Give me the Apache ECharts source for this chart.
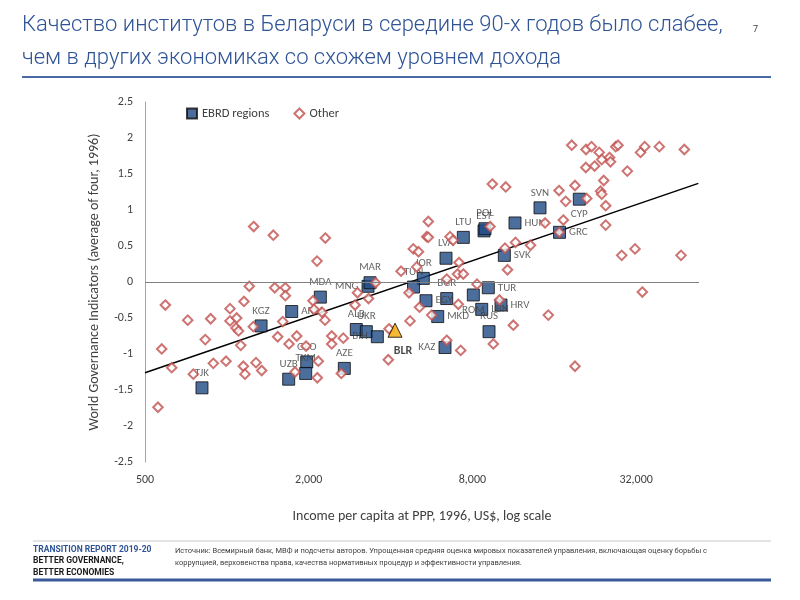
<!DOCTYPE html>
<html><head><meta charset="utf-8">
<script src="https://cdn.jsdelivr.net/npm/echarts@6/dist/echarts.min.js"></script>
<style>html,body{margin:0;padding:0;background:#fff}#c{width:800px;height:600px}</style>
</head><body><div id="c"></div>
<script>
// ---- Data ----
const ebrdCodes = ['TJK','KGZ','ARM','MDA','MNG','MAR','ALB','UKR','BIH','GEO','TKM','UZB','AZE','JOR','TUN','LVA','LTU','EST','POL','HUN','SVN','SVK','GRC','CYP','BGR','EGY','ROM','TUR','LBN','HRV','MKD','RUS','KAZ'];
const ebrdIncome = [810,1336,1732,2207,3305,3362,2993,3258,3576,1967,1950,1688,2704,5278,4858,6397,7407,8826,8902,11473,14180,10483,16727,19782,6436,5400,8062,9153,8656,10192,5963,9208,6343];
const ebrdWgi = [-1.47,-0.61,-0.41,-0.21,-0.06,-0.01,-0.66,-0.69,-0.76,-1.11,-1.27,-1.35,-1.20,0.05,-0.07,0.33,0.62,0.71,0.74,0.82,1.03,0.37,0.69,1.15,-0.23,-0.26,-0.18,-0.08,-0.38,-0.32,-0.48,-0.69,-0.91];

const otherIncome = [1255,1482,2302,2146,4850,5068,5433,4992,4370,3522,1209,1500,1641,1641,594,718,872,1027,1156,1027,1087,1081,1104,1251,1605,833,1125,1538,1807,1693,576,627,753,892,993,1150,1166,1280,1343,1781,1955,2170,2151,2636,2430,2430,2681,2074,2092,2238,2296,3023,2961,3319,4717,4677,3925,558,3948,5111,5507,5507,6618,6789,9286,9470,10606,19070,16656,17630,14795,17274,7140,7052,7407,6436,8318,10543,10768,11524,13084,5668,7099,10064,11311,15214,9550,7245,6436,19070,28327,31706,46804,33727,18548,20937,21934,23414,23915,25547,25764,26923,27451,33215,34413,38951,48133,20900,22516,29700,24321,23673,23915,21060,24738,24738,16700];
const otherWgi = [0.77,0.65,0.61,0.29,0.46,0.42,0.63,0.21,0.15,-0.01,-0.06,-0.08,-0.08,-0.19,-0.32,-0.53,-0.51,-0.37,-0.27,-0.54,-0.50,-0.64,-0.68,-0.62,-0.55,-0.80,-0.88,-0.76,-0.75,-0.86,-0.93,-1.19,-1.28,-1.13,-1.10,-1.17,-1.28,-1.12,-1.23,-1.25,-0.89,-1.10,-1.33,-1.27,-0.75,-0.86,-0.78,-0.26,-0.38,-0.42,-0.53,-0.15,-0.32,-0.23,-0.54,-0.15,-1.08,-1.74,-0.65,-0.35,0.84,0.62,0.63,0.58,0.77,1.36,1.32,1.34,1.27,1.12,0.82,0.86,0.27,0.11,0.11,0.04,-0.03,0.47,0.17,0.55,0.51,-0.46,-0.31,-0.25,-0.60,-0.46,-0.86,-0.95,-0.81,-1.17,0.37,0.46,0.37,-0.14,1.90,1.84,1.88,1.80,1.70,1.73,1.67,1.88,1.90,1.80,1.88,1.88,1.84,1.59,1.61,1.54,1.41,1.26,1.22,1.16,1.06,0.79,0.69];

const blrCode = ['BLR'];
const blrIncome = [4154];
const blrWgi = [-0.67];

const trendIncome = [500, 54200];
const trendWgi = [-1.26, 1.37];

const xAxisMinIncome = 500;
const xAxisMaxIncome = 54500;
const yTickMin = -2.5, yTickMax = 2.5, yTickStep = 0.5;

// ---- Styling (positions of labels relative to points) ----
const labelPos = {TJK:'top',KGZ:'top',ARM:'right',MDA:'top',MNG:'left',MAR:'top',ALB:'top',UKR:'top',BIH:'left',GEO:'top',TKM:'top',UZB:'top',AZE:'top',JOR:'top',TUN:'top',LVA:'top',LTU:'top',EST:'top',POL:'top',HUN:'right',SVN:'top',SVK:'right',GRC:'right',CYP:'bottom',BGR:'top',EGY:'right',ROM:'bottom',TUR:'right',LBN:'right',HRV:'right',MKD:'right',RUS:'top',KAZ:'left'};

const FONT = 'Carlito, Lato, sans-serif';
const toX = v => Math.log2(v / xAxisMinIncome);

const ebrdData = ebrdCodes.map((c, i) => ({
  name: c, value: [toX(ebrdIncome[i]), ebrdWgi[i]],
  label: { position: labelPos[c] || 'top' }
}));
const otherData = otherIncome.map((v, i) => [toX(v), otherWgi[i]]);
const blrData = blrCode.map((c, i) => ({ name: c, value: [toX(blrIncome[i]), blrWgi[i]] }));
const trendData = trendIncome.map((v, i) => [toX(v), trendWgi[i]]);

const chart = echarts.init(document.getElementById('c'), null, { renderer: 'canvas' });
const option = {
  animation: false,
  textStyle: { fontFamily: FONT },
  grid: { left: 145, right: 101, top: 102, bottom: 138 },
  legend: {
    left: 181, top: 102, itemWidth: 10, itemHeight: 10, itemGap: 24,
    textStyle: { fontSize: 12.5, color: '#404040', fontFamily: FONT },
    data: [{ name: 'EBRD regions', icon: 'rect' }, { name: 'Other', icon: 'diamond' }]
  },
  xAxis: {
    type: 'value', min: 0, max: toX(xAxisMaxIncome), interval: 2,
    axisLine: { show: false }, axisTick: { show: false }, splitLine: { show: false },
    axisLabel: {
      margin: 12, fontSize: 12, color: '#404040', fontFamily: FONT, showMaxLabel: false,
      formatter: v => {
        const r = Math.round(v);
        if (Math.abs(v - r) > 1e-6 || r % 2 !== 0) return '';
        return Math.round(xAxisMinIncome * Math.pow(2, r)).toLocaleString('en-US');
      }
    },
    name: 'Income per capita at PPP, 1996, US$, log scale',
    nameLocation: 'middle', nameGap: 47,
    nameTextStyle: { fontSize: 14, color: '#404040', fontFamily: FONT }
  },
  yAxis: {
    type: 'value', min: yTickMin, max: yTickMax, interval: yTickStep,
    axisLine: { show: true, lineStyle: { color: '#a6a6a6', width: 1 } },
    axisTick: { show: false }, splitLine: { show: false },
    axisLabel: { margin: 12, fontSize: 12, color: '#404040', fontFamily: FONT },
    name: 'World Governance Indicators (average of four, 1996)',
    nameLocation: 'middle', nameGap: 44, nameRotate: 90,
    nameTextStyle: { fontSize: 14, color: '#404040', fontFamily: FONT }
  },
  graphic: [
    { type: 'text', left: 22, top: 14, style: { text: 'Качество институтов в Беларуси в середине 90-х годов было слабее,', fontSize: 22, fontFamily: 'Roboto', fontWeight: 300, fill: '#2f5496' } },
    { type: 'text', left: 22, top: 47, style: { text: 'чем в других экономиках со схожем уровнем дохода', fontSize: 22, fontFamily: 'Roboto', fontWeight: 300, fill: '#2f5496' } },
    { type: 'text', left: 753, top: 25, style: { text: '7', fontSize: 9, fontFamily: 'Roboto', fill: '#404040' } },
    { type: 'line', shape: { x1: 22, y1: 77, x2: 771, y2: 77 }, style: { stroke: '#4a6aa5', lineWidth: 2 } },
    { type: 'line', shape: { x1: 33, y1: 541, x2: 771, y2: 541 }, style: { stroke: '#c8c8c8', lineWidth: 1 } },
    { type: 'line', shape: { x1: 33, y1: 580, x2: 771, y2: 580 }, style: { stroke: '#3b5a9a', lineWidth: 3 } },
    { type: 'text', left: 33, top: 545, style: { text: 'TRANSITION REPORT 2019-20', fontSize: 8.5, fontWeight: 'bold', fontFamily: 'Roboto', fill: '#2f5496' } },
    { type: 'text', left: 33, top: 556, style: { text: 'BETTER GOVERNANCE,', fontSize: 8.5, fontWeight: 'bold', fontFamily: 'Roboto', fill: '#1a1a1a' } },
    { type: 'text', left: 33, top: 568, style: { text: 'BETTER ECONOMIES', fontSize: 8.5, fontWeight: 'bold', fontFamily: 'Roboto', fill: '#1a1a1a' } },
    { type: 'text', left: 175, top: 547, style: { text: 'Источник: Всемирный банк, МВФ и подсчеты авторов. Упрощенная средняя оценка мировых показателей управления, включающая оценку борьбы с', fontSize: 7.5, fontFamily: 'Roboto', fill: '#404040' } },
    { type: 'text', left: 175, top: 559, style: { text: 'коррупцией, верховенства права, качества нормативных процедур и эффективности управления.', fontSize: 7.5, fontFamily: 'Roboto', fill: '#404040' } }
  ],
  series: [
    {
      name: 'trend', type: 'line', data: trendData, symbol: 'none', z: 1, silent: true,
      lineStyle: { color: '#000', width: 1.5 },
      markLine: {
        silent: true, symbol: 'none', label: { show: false },
        lineStyle: { color: '#808080', width: 1.2, type: 'solid' },
        data: [{ yAxis: 0 }]
      }
    },
    {
      name: 'EBRD regions', type: 'scatter', symbol: 'rect', symbolSize: 12, z: 2,
      data: ebrdData,
      itemStyle: { color: '#1f4a85', borderColor: '#0d0d0d', borderWidth: 1 },
      label: { show: true, formatter: '{b}', fontSize: 11, color: '#404040', distance: 3, fontFamily: FONT }
    },
    {
      name: 'Other', type: 'scatter', symbol: 'diamond', symbolSize: 9.5, z: 3,
      data: otherData,
      itemStyle: { color: '#ffffff', borderColor: '#c0504d', borderWidth: 2 }
    },
    {
      name: 'BLR', type: 'scatter', symbol: 'triangle', symbolSize: 14, z: 4,
      data: blrData,
      itemStyle: { color: '#f5a700', borderColor: '#000', borderWidth: 1 },
      label: { show: true, position: 'bottom', offset: [8, 2], formatter: '{b}', fontSize: 12, fontWeight: 'bold', color: '#1a1a1a', fontFamily: FONT }
    }
  ]
};
chart.setOption(option);
</script>
</body></html>
